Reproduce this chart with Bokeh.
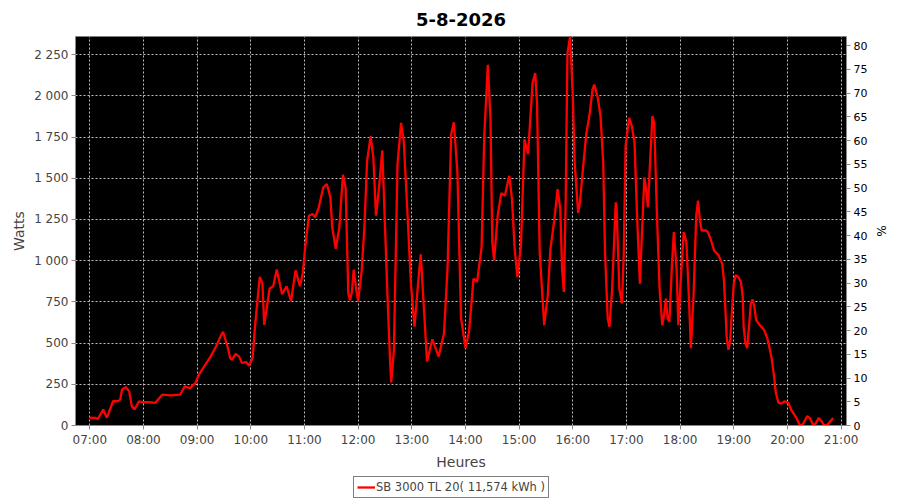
import pandas as pd
from bokeh.plotting import figure
from bokeh.layouts import column
from bokeh.models import (Range1d, LinearAxis, FixedTicker, DatetimeTickFormatter,
                          Legend, LegendItem)
from bokeh.embed import file_html
from bokeh.resources import INLINE

# puissance relevée (heure, watts)
heures = ["07:00", "07:06", "07:09", "07:15", "07:19", "07:26", "07:31", "07:34", "07:36", "07:40",
          "07:44", "07:47", "07:50", "07:55", "08:00", "08:06", "08:13", "08:21", "08:30", "08:41",
          "08:46", "08:52", "08:58", "09:02", "09:09", "09:15", "09:21", "09:26", "09:29", "09:34",
          "09:37", "09:39", "09:43", "09:47", "09:50", "09:55", "09:58", "10:02", "10:05", "10:10",
          "10:13", "10:15", "10:18", "10:21", "10:25", "10:29", "10:35", "10:40", "10:45", "10:50",
          "10:55", "10:58", "11:01", "11:05", "11:09", "11:12", "11:16", "11:21", "11:25", "11:29",
          "11:31", "11:35", "11:39", "11:43", "11:46", "11:49", "11:51", "11:53", "11:55", "11:58",
          "12:00", "12:04", "12:07", "12:10", "12:14", "12:17", "12:20", "12:23", "12:27", "12:29",
          "12:33", "12:36", "12:37", "12:40", "12:44", "12:48", "12:51", "12:55", "12:59", "13:03",
          "13:07", "13:10", "13:13", "13:17", "13:23", "13:30", "13:36", "13:40", "13:44", "13:47",
          "13:51", "13:55", "14:00", "14:04", "14:09", "14:13", "14:18", "14:21", "14:25", "14:28",
          "14:30", "14:32", "14:36", "14:40", "14:44", "14:49", "14:52", "14:55", "14:58", "15:02",
          "15:06", "15:10", "15:15", "15:18", "15:20", "15:23", "15:28", "15:32", "15:35", "15:39",
          "15:43", "15:46", "15:48", "15:50", "15:52", "15:54", "15:57", "16:00", "16:02", "16:06",
          "16:08", "16:12", "16:15", "16:19", "16:22", "16:24", "16:28", "16:31", "16:34", "16:36",
          "16:39", "16:41", "16:44", "16:48", "16:49", "16:52", "16:55", "16:57", "16:59", "17:03",
          "17:06", "17:09", "17:12", "17:15", "17:18", "17:20", "17:21", "17:24", "17:26", "17:29",
          "17:31", "17:34", "17:37", "17:40", "17:42", "17:44", "17:46", "17:48", "17:51", "17:53",
          "17:56", "17:58", "18:01", "18:04", "18:07", "18:10", "18:12", "18:15", "18:18", "18:20",
          "18:22", "18:24", "18:29", "18:31", "18:34", "18:38", "18:43", "18:47", "18:49", "18:51",
          "18:52", "18:54", "18:56", "18:58", "19:00", "19:02", "19:05", "19:08", "19:10", "19:11",
          "19:13", "19:15", "19:17", "19:19", "19:21", "19:23", "19:25", "19:29", "19:34", "19:38",
          "19:42", "19:45", "19:47", "19:50", "19:53", "19:57", "20:01", "20:04", "20:10", "20:14",
          "20:17", "20:22", "20:25", "20:29", "20:32", "20:35", "20:38", "20:41", "20:45", "20:51"]
watts = [47, 46, 40, 97, 46, 147, 147, 157, 217, 233,
         207, 117, 97, 147, 141, 141, 137, 187, 183, 187,
         237, 227, 258, 308, 368, 418, 478, 539, 569, 478,
         408, 398, 434, 418, 380, 384, 362, 410, 620, 901,
         861, 610, 720, 831, 845, 946, 797, 845, 754, 941,
         845, 921, 1092, 1273, 1283, 1263, 1324, 1444, 1465, 1384,
         1203, 1072, 1203, 1521, 1444, 801, 760, 810, 945, 821,
         755, 941, 1203, 1605, 1756, 1625, 1273, 1424, 1670, 1364,
         760, 358, 261, 459, 1585, 1836, 1726, 1304, 861, 599,
         861, 1038, 760, 388, 523, 418, 559, 961, 1766, 1840,
         1535, 655, 469, 570, 891, 871, 1080, 1756, 2189, 1857,
         1112, 1002, 1273, 1410, 1394, 1515, 1374, 1072, 901, 1092,
         1736, 1646, 2078, 2138, 1957, 1052, 609, 790, 1072, 1233,
         1434, 1314, 952, 810, 1354, 2259, 2360, 2000, 1600, 1290,
         1354, 1595, 1766, 1897, 2038, 2068, 1987, 1877, 1595, 1052,
         650, 599, 831, 1354, 1314, 831, 740, 1052, 1696, 1867,
         1816, 1716, 1253, 861, 1253, 1505, 1474, 1324, 1555, 1877,
         1836, 1293, 831, 609, 670, 770, 650, 629, 991, 1173,
         952, 609, 911, 1173, 1112, 750, 469, 790, 1273, 1364,
         1250, 1183, 1183, 1173, 1133, 1062, 1032, 982, 881, 660,
         539, 459, 519, 700, 861, 911, 901, 871, 780, 599,
         499, 469, 599, 740, 765, 720, 640, 609, 579, 519,
         418, 298, 197, 137, 133, 147, 137, 97, 46, 0,
         6, 56, 46, 0, 16, 46, 26, 0, 6, 46]

jour = "2026-08-05"
titre = "5-8-2026"
legende = "SB 3000 TL 20( 11,574 kWh )"
puissance_nominale = 2880  # 100 % sur l'axe de droite
ticks_watts = [0, 250, 500, 750, 1000, 1250, 1500, 1750, 2000, 2250]
ticks_pct = list(range(0, 85, 5))
ticks_heures = ["%02d:00" % h for h in range(7, 22)]

t = pd.to_datetime([jour + " " + h for h in heures])
x_ticks = [pd.Timestamp(jour + " " + h).value // 10**6 for h in ticks_heures]
x_debut = pd.Timestamp(jour + " 06:44")
x_fin = pd.Timestamp(jour + " 21:06")
y_max = 2360

p = figure(width=892, height=472, x_axis_type="datetime",
           x_range=Range1d(x_debut, x_fin), y_range=Range1d(0, y_max),
           output_backend="svg", toolbar_location=None, tools="")
p.min_border_left = 75
p.min_border_right = 46
p.min_border_top = 35
p.min_border_bottom = 45
p.background_fill_color = "black"
p.border_fill_color = "white"
p.outline_line_color = None

p.extra_y_ranges = {"pct": Range1d(0, y_max * 100 / puissance_nominale)}
axe_pct = LinearAxis(y_range_name="pct", axis_label="%")
p.add_layout(axe_pct, "right")

ligne = p.line(t, watts, color="#ff0000", line_width=2.3)

p.title.text = titre
p.title.align = "center"
p.title.text_font = "DejaVu Sans"
p.title.text_font_size = "18px"
p.title.text_font_style = "bold"
p.title.text_color = "black"
p.title.standoff = 21

p.xaxis.ticker = FixedTicker(ticks=x_ticks)
p.xaxis.formatter = DatetimeTickFormatter(hours="%H:%M", hourmin="%H:%M", minutes="%H:%M")
p.xaxis.axis_label = "Heures"
p.yaxis[0].ticker = FixedTicker(ticks=ticks_watts)
p.yaxis[0].major_label_overrides = {v: f"{v:,}".replace(",", " ") for v in ticks_watts}
p.yaxis[0].axis_label = "Watts"
axe_pct.ticker = FixedTicker(ticks=ticks_pct)

for axe in p.axis:
    axe.axis_line_color = "#888888"
    axe.major_tick_line_color = "#888888"
    axe.major_tick_out = 4
    axe.major_tick_in = 0
    axe.minor_tick_line_color = None
    axe.major_label_text_font = "DejaVu Sans"
    axe.major_label_text_font_size = "12px"
    axe.major_label_text_color = "#444444"
    axe.axis_label_text_font = "DejaVu Sans"
    axe.axis_label_text_font_size = "14px"
    axe.axis_label_text_font_style = "normal"
    axe.axis_label_text_color = "#444444"
    axe.axis_label_standoff = 4
    axe.major_label_standoff = 3
axe_pct.major_label_text_font_size = "11px"
axe_pct.major_label_text_color = "black"
axe_pct.axis_label_text_color = "black"
axe_pct.axis_label_text_font_size = "12px"

for grille in (p.xgrid, p.ygrid):
    grille.grid_line_color = "#c0c0c0"
    grille.grid_line_dash = "2 2"
    grille.grid_line_width = 1

# bandeau de légende sous le graphique (la ligne témoin est hors du cadre visible)
bas = figure(width=892, height=26, x_range=(0, 1), y_range=(0, 1),
             x_axis_location=None, y_axis_location=None,
             output_backend="svg", toolbar_location=None, tools="")
bas.min_border = 0
bas.outline_line_color = None
bas.grid.visible = False
echantillon = bas.line([0, 1], [-5, -5], color="#ff0000", line_width=2.3)

# le cadre du bandeau est aligné sur celui du graphique (bord gauche à 75 px)
leg = Legend(items=[LegendItem(label=legende, renderers=[echantillon])],
             location=(278, 0), orientation="horizontal")
leg.border_line_color = "black"
leg.border_line_width = 1
leg.background_fill_color = "white"
leg.label_text_font = "DejaVu Sans"
leg.label_text_font_size = "11.5px"
leg.label_text_color = "#444444"
leg.glyph_width = 18
leg.glyph_height = 12
leg.label_standoff = 1
leg.padding = 3
leg.margin = 0
leg.spacing = 0
bas.add_layout(leg)

page = column(p, bas, spacing=0)
open("out.html", "w").write(file_html(page, INLINE))
